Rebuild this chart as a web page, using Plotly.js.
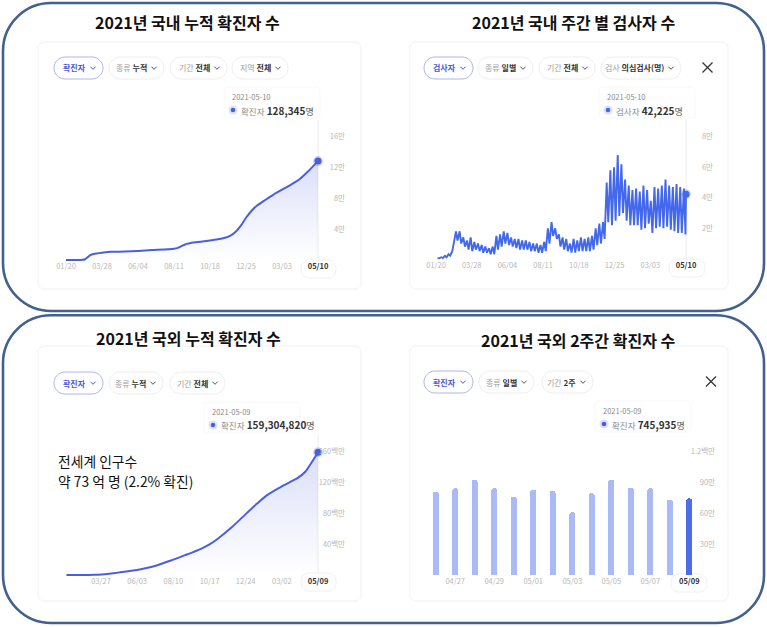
<!DOCTYPE html>
<html><head><meta charset="utf-8">
<script src="https://cdn.plot.ly/plotly-3.0.1.min.js"></script>
<style>html,body{margin:0;padding:0;background:#fff}#chart{width:767px;height:627px}</style>
</head><body><div id="chart"></div>
<script>
// ---------- DATA ----------
// Panel 1: domestic cumulative confirmed
const domDates = ['2020-01-20','2020-02-01','2020-02-17','2020-02-21','2020-02-25','2020-03-01','2020-03-06','2020-03-12','2020-03-28','2020-04-15','2020-05-10','2020-06-04','2020-07-01','2020-08-11','2020-08-18','2020-08-25','2020-09-01','2020-09-20','2020-10-18','2020-11-10','2020-11-25','2020-12-05','2020-12-15','2020-12-25','2021-01-05','2021-01-15','2021-01-31','2021-02-15','2021-03-03','2021-03-20','2021-04-05','2021-04-20','2021-05-10'];
const domCases = [1,12,30,204,977,3736,6284,7869,9478,10613,10874,11668,12904,14660,15761,17945,20182,22893,25275,27799,31353,36332,44364,54770,64264,70728,78205,84946,91240,97757,104736,114115,128345];
const domTicks = ['2020-01-20','2020-03-28','2020-06-04','2020-08-11','2020-10-18','2020-12-25','2021-03-03','2021-05-10'];
const domYTicks = [40000,80000,120000,160000];
const domYText = ['4만','8만','12만','16만'];

// Panel 2: domestic daily tests, weekly peak (mid-week) and low (weekend)
const testStart = '2020-01-20';
const testPeaks = [500,1000,2000,3000,5000,18000,18000,14000,12000,14000,11000,10000,9000,8000,7000,8000,15000,16000,18000,17000,14000,13000,13000,12000,12000,11000,10000,10000,9000,11000,20000,24000,20000,16000,14000,13000,10000,13000,12000,14000,13000,14000,15000,20000,23000,24000,50000,58000,60000,68000,62000,52000,48000,45000,46000,44000,48000,45000,38000,47000,46000,48000,52000,48000,47000,49000,47000,46000];
const testLows  = [300,500,1000,2000,12000,12000,10000,8000,6000,5000,6000,5000,4000,4000,3000,3000,6000,8000,10000,9000,8000,7000,6000,6000,6000,5000,5000,4000,4000,5000,10000,15000,13000,8000,6000,5000,4000,4000,5000,5000,5000,5000,6000,9000,10000,13000,24000,22000,25000,28000,30000,25000,22000,22000,22000,19000,20000,23000,17000,20000,21000,20000,21000,19000,18000,17000,17000,16000];
const testLastDate = '2021-05-10';
const testLastValue = 42225;
const testTicks = ['2020-01-20','2020-03-28','2020-06-04','2020-08-11','2020-10-18','2020-12-25','2021-03-03','2021-05-10'];
const testYTicks = [20000,40000,60000,80000];
const testYText = ['2만','4만','6만','8만'];

// Panel 3: world cumulative confirmed
const worldDates = ['2020-01-22','2020-02-15','2020-03-01','2020-03-15','2020-03-27','2020-04-15','2020-05-01','2020-06-03','2020-07-01','2020-08-01','2020-08-10','2020-09-01','2020-10-01','2020-10-17','2020-11-01','2020-12-01','2020-12-24','2021-01-15','2021-02-01','2021-03-02','2021-04-01','2021-04-15','2021-05-09'];
const worldCases = [557,69000,88000,170000,600000,2080000,3400000,6500000,10600000,17800000,20000000,25700000,34000000,39700000,46800000,63900000,79000000,93000000,103000000,115000000,126000000,134000000,159304820];
const worldTicks = ['2020-03-27','2020-06-03','2020-08-10','2020-10-17','2020-12-24','2021-03-02','2021-05-09'];
const worldYTicks = [40e6,80e6,120e6,160e6];
const worldYText = ['40백만','80백만','120백만','160백만'];

// Panel 4: world daily confirmed, last 2 weeks
const dailyDates = ['2021-04-26','2021-04-27','2021-04-28','2021-04-29','2021-04-30','2021-05-01','2021-05-02','2021-05-03','2021-05-04','2021-05-05','2021-05-06','2021-05-07','2021-05-08','2021-05-09'];
const dailyCases = [811000,844000,925000,844000,763000,828000,818000,611000,796000,925000,850000,844000,731000,745935];
const dailyTicks = ['2021-04-27','2021-04-29','2021-05-01','2021-05-03','2021-05-05','2021-05-07','2021-05-09'];
const dailyYTicks = [300000,600000,900000,1200000];
const dailyYText = ['30만','60만','90만','1.2백만'];

const titles = ['2021년 국내 누적 확진자 수','2021년 국내 주간 별 검사자 수','2021년 국외 누적 확진자 수','2021년 국외 2주간 확진자 수'];
const noteLines = ['전세계 인구수','약 73 억 명 (2.2% 확진)'];

// ---------- HELPERS ----------
const W = 767, H = 627;
const X = p => p / W, Y = p => 1 - p / H;
const ms = s => Date.parse(s + 'T00:00:00Z');
const msStr = m => new Date(m).toISOString().replace('T',' ').replace('Z','');
const addDays = (s, n) => { const d = new Date(s + 'T00:00:00Z'); d.setUTCDate(d.getUTCDate() + n); return d.toISOString().slice(0,10); };
const md = s => s.slice(5).replace('-','/');
const FONT = 'Noto Sans CJK KR, Noto Sans, sans-serif';

function xAxis(p0, v0, p1, v1, d0, d1, isDate) {
  const f = p => v0 + (p - p0) * (v1 - v0) / (p1 - p0);
  const r = [f(d0), f(d1)];
  return { domain: [X(d0), X(d1)], range: isDate ? r.map(msStr) : r };
}
function yAxis(p0, v0, p1, v1, top, bot) {
  const f = p => v0 + (p - p0) * (v1 - v0) / (p1 - p0);
  return { domain: [Y(bot), Y(top)], range: [f(bot), f(top)] };
}
function rr(x0, y0, x1, y1, r) {
  const k = 0.5523 * r;
  return `M ${X(x0+r)} ${Y(y0)} L ${X(x1-r)} ${Y(y0)} C ${X(x1-r+k)} ${Y(y0)} ${X(x1)} ${Y(y0+r-k)} ${X(x1)} ${Y(y0+r)} ` +
         `L ${X(x1)} ${Y(y1-r)} C ${X(x1)} ${Y(y1-r+k)} ${X(x1-r+k)} ${Y(y1)} ${X(x1-r)} ${Y(y1)} ` +
         `L ${X(x0+r)} ${Y(y1)} C ${X(x0+r-k)} ${Y(y1)} ${X(x0)} ${Y(y1-r+k)} ${X(x0)} ${Y(y1-r)} ` +
         `L ${X(x0)} ${Y(y0+r)} C ${X(x0)} ${Y(y0+r-k)} ${X(x0+r-k)} ${Y(y0)} ${X(x0+r)} ${Y(y0)} Z`;
}

const C1 = '#4a5fdf', C2 = '#4368ec';
const tickGray = '#b8b8b8';

function lastTickText(list) {
  return list.map((d, i) => i === list.length - 1 ? '<span style="color:#333"><b>' + md(d) + '</b></span>' : md(d));
}

// ---------- TRACES ----------
const traces = [];
traces.push({ x: domDates, y: domCases, xaxis: 'x', yaxis: 'y', type: 'scatter', mode: 'lines',
  line: { color: C1, width: 2, shape: 'spline', smoothing: 0.5 }, fill: 'tozeroy',
  fillgradient: { type: 'vertical', colorscale: [[0,'rgba(74,95,223,0)'],[1,'rgba(74,95,223,0.2)']] },
  hoverinfo: 'skip' });
traces.push({ x: [domDates[domDates.length-1]], y: [domCases[domCases.length-1]], xaxis: 'x', yaxis: 'y', type: 'scatter', mode: 'markers',
  marker: { size: 7, color: C1, line: { width: 3, color: 'rgba(74,95,223,0.25)' } }, cliponaxis: false, hoverinfo: 'skip' });

const tx = [], ty = [];
for (let i = 0; i < testPeaks.length; i++) {
  tx.push(addDays(testStart, 7*i + 3)); ty.push(testPeaks[i]);
  tx.push(addDays(testStart, 7*i + 6)); ty.push(testLows[i]);
}
tx.push(testLastDate); ty.push(testLastValue);
traces.push({ x: tx, y: ty, xaxis: 'x2', yaxis: 'y2', type: 'scatter', mode: 'lines',
  line: { color: C2, width: 1.9 }, hoverinfo: 'skip' });
traces.push({ x: [testLastDate], y: [testLastValue], xaxis: 'x2', yaxis: 'y2', type: 'scatter', mode: 'markers',
  marker: { size: 7, color: C2, line: { width: 3, color: 'rgba(68,103,232,0.25)' } }, cliponaxis: false, hoverinfo: 'skip' });

traces.push({ x: worldDates, y: worldCases, xaxis: 'x3', yaxis: 'y3', type: 'scatter', mode: 'lines',
  line: { color: C1, width: 2, shape: 'spline', smoothing: 0.6 }, fill: 'tozeroy',
  fillgradient: { type: 'vertical', colorscale: [[0,'rgba(74,95,223,0)'],[1,'rgba(74,95,223,0.2)']] },
  hoverinfo: 'skip' });
traces.push({ x: [worldDates[worldDates.length-1]], y: [worldCases[worldCases.length-1]], xaxis: 'x3', yaxis: 'y3', type: 'scatter', mode: 'markers',
  marker: { size: 7, color: C1, line: { width: 3, color: 'rgba(74,95,223,0.25)' } }, cliponaxis: false, hoverinfo: 'skip' });

traces.push({ x: dailyDates, y: dailyCases, xaxis: 'x4', yaxis: 'y4', type: 'bar', width: 0.3,
  marker: { color: dailyDates.map((d, i) => i === dailyDates.length - 1 ? '#4d6ce8' : '#a9baf6'), cornerradius: 3 },
  hoverinfo: 'skip' });

// ---------- AXES ----------
const baseX = { showgrid: false, zeroline: false, showline: false, ticks: '', anchor: 'free', automargin: false,
  tickfont: { size: 7.5, color: tickGray, family: FONT } };
const baseY = { showgrid: false, zeroline: false, showline: false, ticks: '', anchor: 'free', side: 'left', automargin: false,
  tickfont: { size: 7.5, color: tickGray, family: FONT }, tickmode: 'array' };

const layout = {
  width: W, height: H, margin: { l: 0, r: 0, t: 0, b: 0 }, paper_bgcolor: '#fff', plot_bgcolor: 'rgba(0,0,0,0)',
  showlegend: false, font: { family: FONT }, bargap: 0,
  xaxis: Object.assign({}, baseX, xAxis(66, ms('2020-01-20'), 318, ms('2021-05-10'), 56, 330, true),
    { type: 'date', position: Y(260.5), tickmode: 'array', tickvals: domTicks, ticktext: lastTickText(domTicks) }),
  yaxis: Object.assign({}, baseY, yAxis(260, 0, 136.7, 160000, 112, 262),
    { position: X(345), tickvals: domYTicks, ticktext: domYText }),
  xaxis2: Object.assign({}, baseX, xAxis(436, ms('2020-01-20'), 686, ms('2021-05-10'), 426, 698, true),
    { type: 'date', position: Y(259.5), tickmode: 'array', tickvals: testTicks, ticktext: lastTickText(testTicks) }),
  yaxis2: Object.assign({}, baseY, yAxis(258.8, 0, 136.7, 80000, 112, 261),
    { position: X(713), tickvals: testYTicks, ticktext: testYText }),
  xaxis3: Object.assign({}, baseX, xAxis(101, ms('2020-03-27'), 318, ms('2021-05-09'), 56, 330, true),
    { type: 'date', position: Y(575), tickmode: 'array', tickvals: worldTicks, ticktext: lastTickText(worldTicks) }),
  yaxis3: Object.assign({}, baseY, yAxis(575, 0, 451.7, 160e6, 428, 577),
    { position: X(345), tickvals: worldYTicks, ticktext: worldYText }),
  xaxis4: Object.assign({}, baseX, xAxis(435.7, 0, 689.3, 13, 425, 700, false),
    { type: 'category', position: Y(575.2), tickmode: 'array', tickvals: dailyTicks, ticktext: lastTickText(dailyTicks),
      categoryorder: 'array', categoryarray: dailyDates }),
  yaxis4: Object.assign({}, baseY, yAxis(575.2, 0, 451.7, 1200000, 428, 577),
    { position: X(715), tickvals: dailyYTicks, ticktext: dailyYText }),
  shapes: [], annotations: []
};

const S = layout.shapes, A = layout.annotations;
// outer frames
S.push({ type: 'path', xref: 'paper', yref: 'paper', path: rr(3, 3, 764, 311, 48), line: { color: '#42618e', width: 2.6 }, fillcolor: 'rgba(0,0,0,0)', layer: 'below' });
S.push({ type: 'path', xref: 'paper', yref: 'paper', path: rr(3, 315.3, 764, 623, 48), line: { color: '#42618e', width: 2.6 }, fillcolor: 'rgba(0,0,0,0)', layer: 'below' });
// cards
[[38,42,361,289],[410,42,728,289],[38,346,361,601],[410,346,728,601]].forEach(c =>
  S.push({ type: 'path', xref: 'paper', yref: 'paper', path: rr(c[0], c[1], c[2], c[3], 6), line: { color: '#f1f1f1', width: 1 }, fillcolor: 'rgba(0,0,0,0)', layer: 'below' }));

// titles
[[titles[0], 187, 22], [titles[1], 573, 22], [titles[2], 188, 338], [titles[3], 578, 340]].forEach(t =>
  A.push({ xref: 'paper', yref: 'paper', x: X(t[1]), y: Y(t[2]), text: '<b>' + t[0] + '</b>', showarrow: false,
    xanchor: 'center', yanchor: 'middle', font: { size: 16, color: '#111', family: FONT } }));

// filter buttons
function button(x0, x1, yc, gray, bold, active) {
  S.push({ type: 'path', xref: 'paper', yref: 'paper', path: rr(x0, yc - 11, x1, yc + 11, 11),
    line: { color: active ? '#aeb6ee' : '#eeeeee', width: 1 }, fillcolor: '#fff', layer: 'below' });
  const txt = active ? '<b>' + bold + '</b>' : '<span style="color:#a0a0a0">' + gray + '</span> <b>' + bold + '</b>';
  A.push({ xref: 'paper', yref: 'paper', x: X(x1 - 15), y: Y(yc), text: txt, showarrow: false, xanchor: 'right', yanchor: 'middle',
    font: { size: 8, color: active ? '#4a5bd6' : '#333', family: FONT } });
  const cx = x1 - 10;
  S.push({ type: 'path', xref: 'paper', yref: 'paper',
    path: `M ${X(cx-2.6)} ${Y(yc-1.3)} L ${X(cx)} ${Y(yc+1.3)} L ${X(cx+2.6)} ${Y(yc-1.3)}`,
    line: { color: active ? '#4a5bd6' : '#555', width: 1 } });
}
button(54, 103, 68, '', '확진자', true); button(109, 164, 68, '종류', '누적'); button(170, 227, 68, '기간', '전체'); button(232, 288, 68, '지역', '전체');
button(424, 473, 68, '', '검사자', true); button(478, 533, 68, '종류', '일별'); button(539, 595, 68, '기간', '전체'); button(601, 681, 68, '검사', '의심검사(명)');
button(54, 103, 383, '', '확진자', true); button(109, 163, 383, '종류', '누적'); button(170, 225, 383, '기간', '전체');
button(424, 473, 382, '', '확진자', true); button(479, 534, 382, '종류', '일별'); button(542, 593, 382, '기간', '2주');

// close icons
function closeIcon(cx, cy) {
  S.push({ type: 'line', xref: 'paper', yref: 'paper', x0: X(cx-5), y0: Y(cy-5), x1: X(cx+5), y1: Y(cy+5), line: { color: '#333', width: 1.3 } });
  S.push({ type: 'line', xref: 'paper', yref: 'paper', x0: X(cx-5), y0: Y(cy+5), x1: X(cx+5), y1: Y(cy-5), line: { color: '#333', width: 1.3 } });
}
closeIcon(707.5, 67.5); closeIcon(711, 381.5);

// last-tick pills
[[301,260,336,278],[669,259,705,277],[301,573,336,591],[671,574,707,592]].forEach(p =>
  S.push({ type: 'path', xref: 'paper', yref: 'paper', path: rr(p[0], p[1], p[2], p[3], 8), line: { color: '#f0f0f0', width: 1 }, fillcolor: '#fff', layer: 'below' }));

// hover guide lines
S.push({ type: 'line', xref: 'x', yref: 'paper', x0: domDates[domDates.length-1], x1: domDates[domDates.length-1], y0: Y(260), y1: Y(120), line: { color: '#ececec', width: 1 }, layer: 'below' });
S.push({ type: 'line', xref: 'x2', yref: 'paper', x0: testLastDate, x1: testLastDate, y0: Y(259), y1: Y(120), line: { color: '#ececec', width: 1 }, layer: 'below' });
S.push({ type: 'line', xref: 'x3', yref: 'paper', x0: worldDates[worldDates.length-1], x1: worldDates[worldDates.length-1], y0: Y(575), y1: Y(434), line: { color: '#ececec', width: 1 }, layer: 'below' });

// tooltips
function tooltip(x0, y0, date, label, value, color) {
  S.push({ type: 'path', xref: 'paper', yref: 'paper', path: rr(x0 - 6, y0 - 9, x0 + 90, y0 + 22, 4), line: { color: '#f8f8f8', width: 1 }, fillcolor: '#fff', layer: 'below' });
  A.push({ xref: 'paper', yref: 'paper', x: X(x0), y: Y(y0), text: date, showarrow: false, xanchor: 'left', yanchor: 'middle',
    font: { size: 7.5, color: '#8a8a8a', family: FONT } });
  const dx = x0 + 3, dy = y0 + 14;
  S.push({ type: 'circle', xref: 'paper', yref: 'paper', x0: X(dx-4.5), x1: X(dx+4.5), y0: Y(dy-4.5), y1: Y(dy+4.5), line: { width: 0 }, fillcolor: 'rgba(74,95,223,0.18)' });
  S.push({ type: 'circle', xref: 'paper', yref: 'paper', x0: X(dx-2.3), x1: X(dx+2.3), y0: Y(dy-2.3), y1: Y(dy+2.3), line: { width: 0 }, fillcolor: color });
  A.push({ xref: 'paper', yref: 'paper', x: X(x0 + 9), y: Y(dy), showarrow: false, xanchor: 'left', yanchor: 'middle',
    text: '<span style="color:#8a8a8a;font-size:8.5px">' + label + '</span> <b>' + value.toLocaleString('en-US') + '</b><span style="color:#555;font-size:9px">명</span>',
    font: { size: 10, color: '#333', family: FONT } });
}
tooltip(230, 96, domDates[domDates.length-1], '확진자', domCases[domCases.length-1], C1);
tooltip(605, 96, testLastDate, '검사자', testLastValue, C2);
tooltip(210, 411, worldDates[worldDates.length-1], '확진자', worldCases[worldCases.length-1], C1);
tooltip(601, 410, dailyDates[dailyDates.length-1], '확진자', dailyCases[dailyCases.length-1], C1);

// note (two lines)
A.push({ xref: 'paper', yref: 'paper', x: X(56), y: Y(461), text: noteLines[0], showarrow: false,
  xanchor: 'left', yanchor: 'middle', align: 'left', font: { size: 13.8, color: '#111', family: FONT } });
A.push({ xref: 'paper', yref: 'paper', x: X(56), y: Y(480.5), text: noteLines[1], showarrow: false,
  xanchor: 'left', yanchor: 'middle', align: 'left', font: { size: 13.8, color: '#111', family: FONT } });

Plotly.newPlot('chart', traces, layout, { staticPlot: true, displayModeBar: false });
</script>
</body></html>
